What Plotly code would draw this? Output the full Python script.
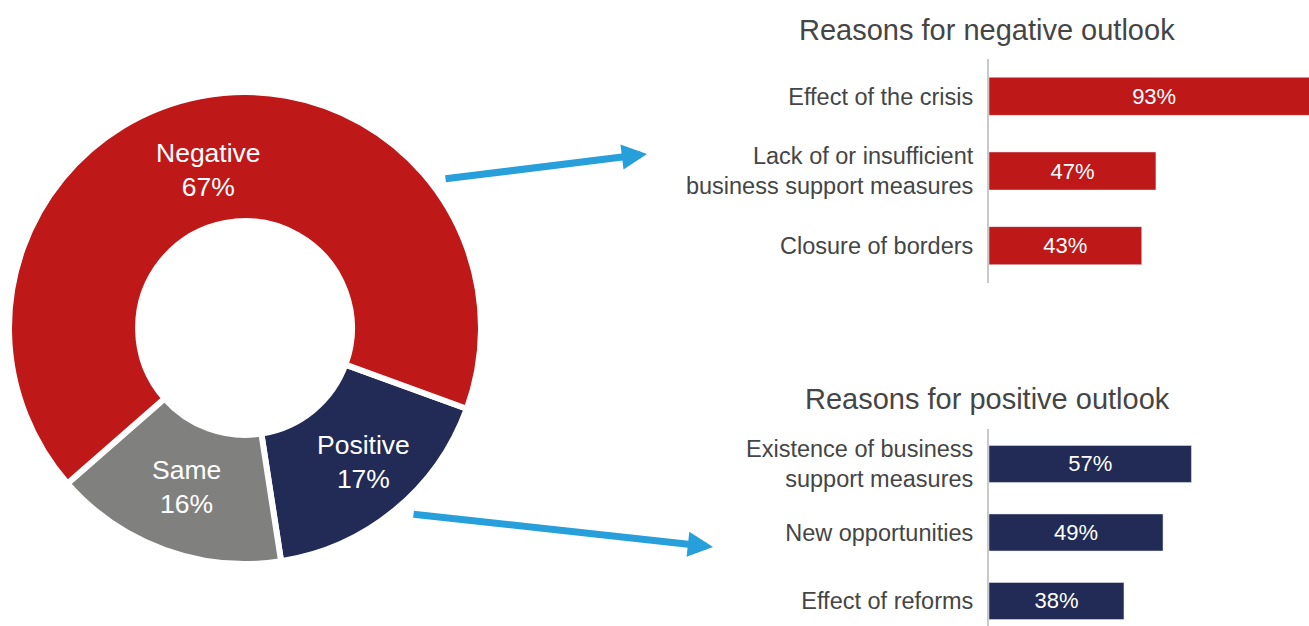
import plotly.graph_objects as go

W, H = 1309, 626

# Overall outlook split
outlook_labels = ["Positive", "Same", "Negative"]
outlook_values = [17, 16, 67]
outlook_colors = ["#212B55", "#80817F", "#BE1819"]

# Reasons for negative outlook (% of respondents)
neg_reasons = ["Effect of the crisis",
               "Lack of or insufficient<br>business support measures",
               "Closure of borders"]
neg_values = [93, 47, 43]

# Reasons for positive outlook (% of respondents)
pos_reasons = ["Existence of business<br>support measures",
               "New opportunities",
               "Effect of reforms"]
pos_values = [57, 49, 38]

FONT = "Liberation Sans, Arial, Helvetica, sans-serif"
TEXT_GREY = "#454545"
RED = "#BE1819"
NAVY = "#212B55"
ARROW_BLUE = "#279FDA"


def px_x(x):
    return x / W


def px_y(y):
    return 1 - y / H


fig = go.Figure()

# Donut
fig.add_trace(go.Pie(
    labels=outlook_labels,
    values=outlook_values,
    sort=False,
    direction="clockwise",
    rotation=110,
    hole=0.453,
    marker=dict(colors=outlook_colors, line=dict(color="white", width=6)),
    textinfo="none",
    hoverinfo="label+percent",
    showlegend=False,
    domain=dict(x=[px_x(9), px_x(481)], y=[px_y(564), px_y(92)]),
))

# Negative reasons bars
fig.add_trace(go.Bar(
    x=neg_values, y=neg_reasons, orientation="h",
    marker=dict(color=RED),
    width=0.51,
    text=[f"{v}%" for v in neg_values],
    textposition="inside", insidetextanchor="middle",
    textfont=dict(color="white", size=22, family=FONT),
    cliponaxis=True,
    xaxis="x", yaxis="y", showlegend=False,
))

# Positive reasons bars
fig.add_trace(go.Bar(
    x=pos_values, y=pos_reasons, orientation="h",
    marker=dict(color=NAVY),
    width=0.54,
    text=[f"{v}%" for v in pos_values],
    textposition="inside", insidetextanchor="middle",
    textfont=dict(color="white", size=22, family=FONT),
    cliponaxis=True,
    xaxis="x2", yaxis="y2", showlegend=False,
))

bar_x_range = [0, 90.1]
xdom = [px_x(989), 1.0]

common_x = dict(range=bar_x_range, domain=xdom, visible=False, fixedrange=True)
common_y = dict(
    type="category", showline=True, linecolor="#C9C9C9", linewidth=2,
    showgrid=False, zeroline=False, ticks="", ticklabelstandoff=9,
    tickfont=dict(size=23.5, color=TEXT_GREY, family=FONT), fixedrange=True,
)

fig.update_layout(
    width=W, height=H,
    margin=dict(l=0, r=0, t=0, b=0),
    paper_bgcolor="white", plot_bgcolor="white",
    font=dict(family=FONT, color=TEXT_GREY),
    xaxis=dict(anchor="y", **common_x),
    yaxis=dict(anchor="x", domain=[px_y(283), px_y(59)],
               categoryorder="array", categoryarray=neg_reasons,
               range=[2.5, -0.5], **common_y),
    xaxis2=dict(anchor="y2", **common_x),
    yaxis2=dict(anchor="x2", domain=[0, px_y(429)],
                categoryorder="array", categoryarray=pos_reasons,
                range=[2.365, -0.51], **common_y),
)

annotations = []

# Chart titles
for title, ypix in [("Reasons for negative outlook", 30),
                    ("Reasons for positive outlook", 399)]:
    annotations.append(dict(
        text=title, xref="paper", yref="paper",
        x=px_x(987), y=px_y(ypix), xanchor="center", yanchor="middle",
        showarrow=False, font=dict(size=29, color=TEXT_GREY, family=FONT),
    ))

# Donut slice labels
label_pos = {"Negative": (209, 170), "Positive": (363, 462), "Same": (186, 487)}
for lab, val in zip(outlook_labels, outlook_values):
    lx, ly = label_pos[lab]
    annotations.append(dict(
        text=f"{lab}<br>{val}%", xref="paper", yref="paper",
        x=px_x(lx), y=px_y(ly), xanchor="center", yanchor="middle",
        showarrow=False, font=dict(size=26.5, color="white", family=FONT),
    ))

# Connector arrows from donut to the reason panels
for (tail, tip) in [((444, 179), (647, 154)), ((412, 514), (713, 547))]:
    annotations.append(dict(
        text="", xref="paper", yref="paper",
        x=px_x(tip[0]), y=px_y(tip[1]),
        ax=tail[0] - tip[0], ay=tail[1] - tip[1],
        axref="pixel", ayref="pixel",
        showarrow=True, arrowhead=2, arrowsize=0.72, arrowwidth=7,
        arrowcolor=ARROW_BLUE, standoff=0, startstandoff=0,
    ))

fig.update_layout(annotations=annotations)

fig.write_html("out.html", config={"displayModeBar": False})
